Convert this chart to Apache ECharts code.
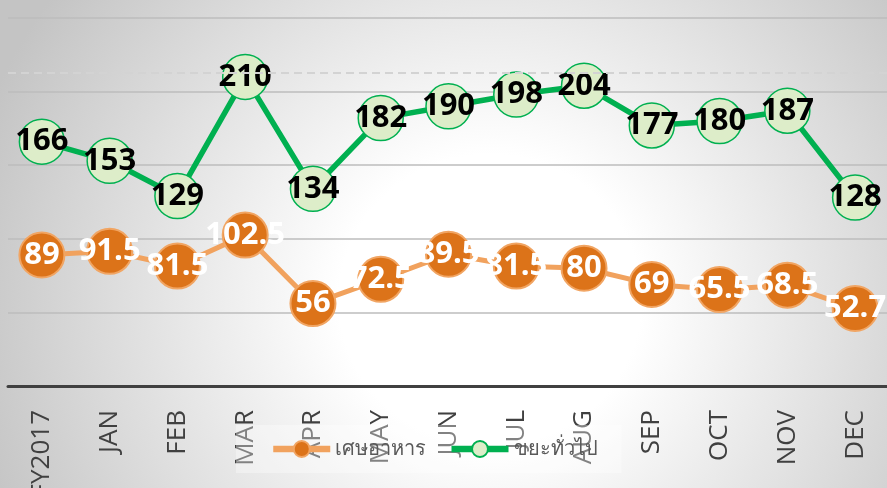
<!DOCTYPE html>
<html>
<head>
<meta charset="utf-8">
<script src="https://cdn.jsdelivr.net/npm/echarts@6/dist/echarts.min.js"></script>
<style>
html,body{margin:0;padding:0;}
#c{width:887px;height:488px;background:radial-gradient(ellipse 540px 520px at 490px 300px,#ffffff 0%,#ffffff 28%,#c4c4c4 100%);}
</style>
</head>
<body>
<div id="c"></div>
<script>
const categories = ['FY2017','JAN','FEB','MAR','APR','MAY','JUN','JUL','AUG','SEP','OCT','NOV','DEC'];
const foodWaste = [89, 91.5, 81.5, 102.5, 56, 72.5, 89.5, 81.5, 80, 69, 65.5, 68.5, 52.7];
const generalWaste = [166, 153, 129, 210, 134, 182, 190, 198, 204, 177, 180, 187, 128];
const seriesNames = ['เศษอาหาร', 'ขยะทั่วไป'];

const chart = echarts.init(document.getElementById('c'), null, {renderer:'canvas'});
chart.setOption({
  backgroundColor: 'transparent',
  animation: false,
  grid: {left: 8, right: -2, top: 18, bottom: 102, containLabel: false, outerBoundsMode: 'none'},
  legend: {
    data: seriesNames,
    left: 236, top: 425,
    padding: [14, 24, 14, 34],
    backgroundColor: 'rgba(255,255,255,0.35)',
    itemWidth: 57, itemHeight: 20, itemGap: 22,
    lineStyle: {width: 6.5},
    textStyle: {fontSize: 20, color: '#595959', fontFamily: 'Noto Sans, sans-serif'}
  },
  xAxis: {
    type: 'category',
    data: categories,
    boundaryGap: true,
    axisLine: {lineStyle: {color: '#404040', width: 3}},
    axisTick: {show: false},
    axisLabel: {rotate: 90, margin: 24, fontSize: 26, color: '#404040', fontFamily: 'Open Sans, sans-serif'}
  },
  yAxis: {
    type: 'value', min: 0, max: 250, interval: 50,
    axisLabel: {show: false},
    axisLine: {show: false}, axisTick: {show: false},
    splitLine: {lineStyle: {color: '#bdbdbd', width: 1.5}}
  },
  series: [
    {
      name: seriesNames[0], type: 'line', data: foodWaste,
      symbol: 'circle', symbolSize: 45,
      lineStyle: {color: '#F1A25E', width: 5},
      itemStyle: {color: '#DC7319', borderColor: '#F1A563', borderWidth: 2},
      label: {show: true, position: 'inside', color: '#ffffff', fontSize: 31, fontWeight: 'bold', fontFamily: 'Open Sans, sans-serif'},
      z: 3
    },
    {
      name: seriesNames[1], type: 'line', data: generalWaste,
      symbol: 'circle', symbolSize: 45,
      lineStyle: {color: '#00B050', width: 5.5},
      itemStyle: {color: '#DDEDC9', borderColor: '#00B050', borderWidth: 1.5},
      label: {show: true, position: 'inside', color: '#000000', fontSize: 31, fontWeight: 'bold', fontFamily: 'Open Sans, sans-serif'},
      markLine: {
        silent: true, symbol: 'none', label: {show: false},
        lineStyle: {color: '#d3d3d3', type: [8, 5], width: 2},
        data: [{yAxis: 212.5}]
      },
      z: 4
    }
  ]
});
</script>
</body>
</html>
